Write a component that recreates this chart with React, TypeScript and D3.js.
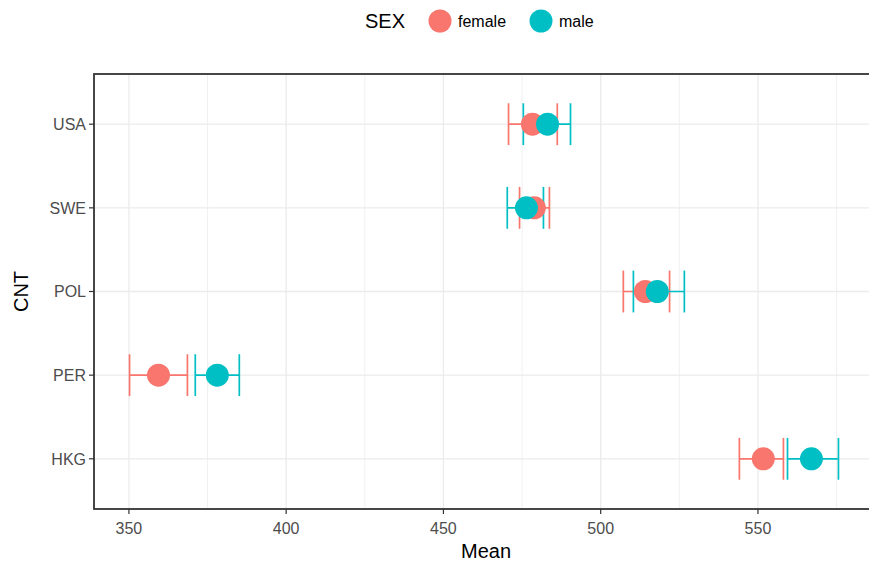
import React from "react";
import * as d3 from "d3";

const countries = ["HKG", "PER", "POL", "SWE", "USA"];
const sexes = ["female", "male"];
const femaleMean = [551.7, 359.4, 514.2, 478.9, 478.3];
const femaleLow = [544.1, 350.2, 507.2, 474.2, 470.7];
const femaleHigh = [558.1, 368.6, 521.9, 483.7, 486.2];
const maleMean = [567.0, 378.1, 518.0, 476.4, 483.1];
const maleLow = [559.4, 371.1, 510.4, 470.3, 475.4];
const maleHigh = [575.6, 385.1, 526.6, 481.8, 490.4];
const xTicks = [350, 400, 450, 500, 550];
const xMinor = [375, 425, 475, 525, 575];

const colors: Record<string, string> = { female: "#F8766D", male: "#00BFC4" };

export default function App() {
  const W = 869, H = 564;
  const left = 94, right = 874, top = 74, bottom = 509;
  const x = d3.scaleLinear().domain([338.9, 586.9]).range([left, right]);
  const y = d3.scaleLinear().domain([0.4, 5.6]).range([bottom, top]);
  const rows = countries.map((c, i) => ({ c, pos: i + 1 }));
  const series = [
    { sex: "female", mean: femaleMean, low: femaleLow, high: femaleHigh },
    { sex: "male", mean: maleMean, low: maleLow, high: maleHigh },
  ];
  const capH = (y(0) - y(0.5)) / 2;
  const font = "'Liberation Sans', Arial, sans-serif";
  return (
    <svg width={W} height={H} style={{ position: "absolute", left: 0, top: 0, background: "#fff" }} fontFamily={font}>
      <rect x={0} y={0} width={W} height={H} fill="#fff" />
      {/* grid */}
      {xMinor.map((v) => (
        <line key={"mn" + v} x1={x(v)} x2={x(v)} y1={top} y2={bottom} stroke="#ebebeb" strokeWidth={0.7} />
      ))}
      {rows.map((r) => (
        <line key={"gy" + r.c} x1={left} x2={right} y1={y(r.pos)} y2={y(r.pos)} stroke="#ebebeb" strokeWidth={1.3} />
      ))}
      {xTicks.map((v) => (
        <line key={"mj" + v} x1={x(v)} x2={x(v)} y1={top} y2={bottom} stroke="#ebebeb" strokeWidth={1.3} />
      ))}
      {/* error bars */}
      {series.map((s) =>
        rows.map((r, i) => {
          const yc = y(r.pos);
          const col = colors[s.sex];
          return (
            <g key={"eb" + s.sex + r.c} stroke={col} strokeWidth={1.7}>
              <line x1={x(s.low[i])} x2={x(s.high[i])} y1={yc} y2={yc} />
              <line x1={x(s.low[i])} x2={x(s.low[i])} y1={yc - capH} y2={yc + capH} />
              <line x1={x(s.high[i])} x2={x(s.high[i])} y1={yc - capH} y2={yc + capH} />
            </g>
          );
        })
      )}
      {/* points */}
      {series.map((s) =>
        rows.map((r, i) => (
          <circle key={"pt" + s.sex + r.c} cx={x(s.mean[i])} cy={y(r.pos)} r={11.5} fill={colors[s.sex]} />
        ))
      )}
      {/* border */}
      <rect x={left} y={top} width={right - left} height={bottom - top} fill="none" stroke="#333333" strokeWidth={1.8} />
      {/* y axis */}
      {rows.map((r) => (
        <g key={"yt" + r.c}>
          <line x1={left - 5} x2={left} y1={y(r.pos)} y2={y(r.pos)} stroke="#333333" strokeWidth={1.2} />
          <text x={left - 8} y={y(r.pos)} dy="0.36em" textAnchor="end" fontSize={16} fill="#4d4d4d">
            {r.c}
          </text>
        </g>
      ))}
      {/* x axis */}
      {xTicks.map((v) => (
        <g key={"xt" + v}>
          <line x1={x(v)} x2={x(v)} y1={bottom} y2={bottom + 5} stroke="#333333" strokeWidth={1.2} />
          <text x={x(v)} y={bottom + 25} textAnchor="middle" fontSize={16} fill="#4d4d4d">
            {v}
          </text>
        </g>
      ))}
      <text x={486} y={558} textAnchor="middle" fontSize={20} fill="#000">
        Mean
      </text>
      <text transform={`translate(28,${(top + bottom) / 2}) rotate(-90)`} textAnchor="middle" fontSize={20} fill="#000">
        CNT
      </text>
      {/* legend */}
      <text x={365} y={28} fontSize={20} fill="#000">SEX</text>
      {sexes.map((s, i) => {
        const cx = i === 0 ? 440 : 541;
        return (
          <g key={"lg" + s}>
            <circle cx={cx} cy={21} r={11.5} fill={colors[s]} />
            <text x={cx + 18} y={26.5} fontSize={16} fill="#000">
              {s}
            </text>
          </g>
        );
      })}
    </svg>
  );
}
